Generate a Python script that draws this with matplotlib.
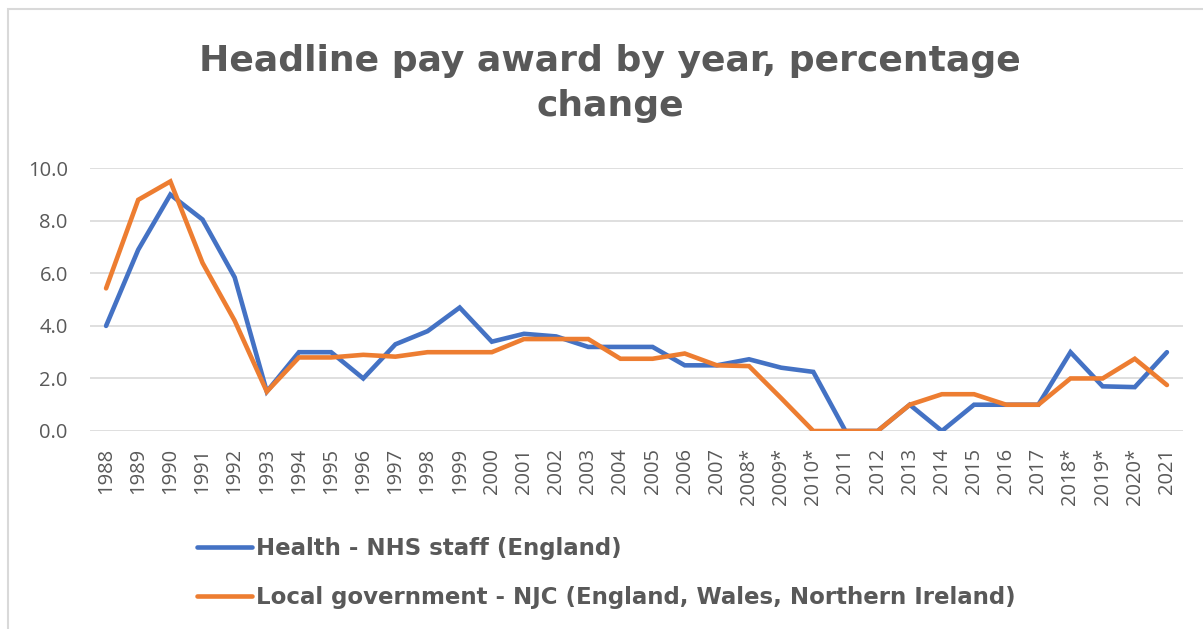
import numpy as np
import matplotlib
matplotlib.use('Agg')
import matplotlib.pyplot as plt
from matplotlib.patches import Rectangle

#############################################################
''' data read from the chart '''

years = ['1988', '1989', '1990', '1991', '1992', '1993', '1994', '1995', '1996', '1997',
         '1998', '1999', '2000', '2001', '2002', '2003', '2004', '2005', '2006', '2007',
         '2008*', '2009*', '2010*', '2011', '2012', '2013', '2014', '2015', '2016', '2017',
         '2018*', '2019*', '2020*', '2021']

nhs = [4.0, 6.9, 9.0, 8.05, 5.85, 1.5, 3.0, 3.0, 2.0, 3.3,
       3.8, 4.7, 3.4, 3.7, 3.6, 3.2, 3.2, 3.2, 2.5, 2.5,
       2.73, 2.41, 2.25, 0.0, 0.0, 1.0, 0.0, 1.0, 1.0, 1.0,
       3.0, 1.7, 1.67, 3.0]

njc = [5.43, 8.8, 9.5, 6.4, 4.2, 1.5, 2.8, 2.8, 2.9, 2.83,
       3.0, 3.0, 3.0, 3.5, 3.5, 3.5, 2.75, 2.75, 2.95, 2.5,
       2.47, 1.25, 0.0, 0.0, 0.0, 1.0, 1.4, 1.4, 1.0, 1.0,
       2.0, 2.0, 2.75, 1.75]

labels = ['Health - NHS staff (England)',
          'Local government - NJC (England, Wales, Northern Ireland)']
yticks = [0, 2, 4, 6, 8, 10]

#############################################################
''' styling '''

W, H = 1203, 629
text_grey = '#595959'
grid_grey = '#d9d9d9'
blue = '#4472C4'
orange = '#ED7D31'
lw = 3.3

fig = plt.figure(figsize=(W / 100, H / 100), dpi=100)
ax = fig.add_axes([90 / W, 1 - 431 / H, (1183 - 90) / W, (431 - 168.3) / H])

x = np.arange(len(years))
ax.plot(x, nhs, color=blue, lw=lw, solid_capstyle='round', solid_joinstyle='miter', label=labels[0])
ax.plot(x, njc, color=orange, lw=lw, solid_capstyle='round', solid_joinstyle='miter', label=labels[1])

ax.set_xlim(-0.5, len(years) - 0.5)
ax.set_ylim(0, 10)
ax.set_yticks(yticks)
ax.set_yticklabels(['{:.1f}'.format(v) for v in yticks])
ax.set_xticks(x)
ax.set_xticklabels(years, rotation=90, va='top', ha='center')

ax.grid(axis='y', color=grid_grey, lw=1.2)
ax.set_axisbelow(True)
for s in ax.spines.values():
    s.set_visible(False)
ax.tick_params(axis='both', length=0, colors=text_grey, labelsize=14.5)
ax.tick_params(axis='x', pad=12)
ax.tick_params(axis='y', pad=16)
for t in ax.get_xticklabels() + ax.get_yticklabels():
    t.set_fontfamily(['Open Sans', 'DejaVu Sans'])

# title
fig.text(610 / W, 1 - 44 / H, 'Headline pay award by year, percentage\nchange',
         ha='center', va='top', fontsize=26, fontweight='bold', color=text_grey,
         family=['DejaVu Sans'], linespacing=1.42)

# legend
leg = fig.legend(loc='upper left', bbox_to_anchor=(197 / W, 1 - 537.5 / H),
                 frameon=False, borderpad=0, borderaxespad=0,
                 handlelength=2.4, handletextpad=0.17, labelspacing=1.1,
                 prop={'family': ['DejaVu Sans'], 'weight': 'bold', 'size': 16.5})
for t in leg.get_texts():
    t.set_color(text_grey)

# chart border (only left and top edges fall inside the picture)
fig.add_artist(Rectangle((8 / W, -0.1), 1.2, 1.1 - 9 / H, transform=fig.transFigure,
                         fill=False, edgecolor=grid_grey, lw=1.5))

fig.savefig('out.png', dpi=100)
